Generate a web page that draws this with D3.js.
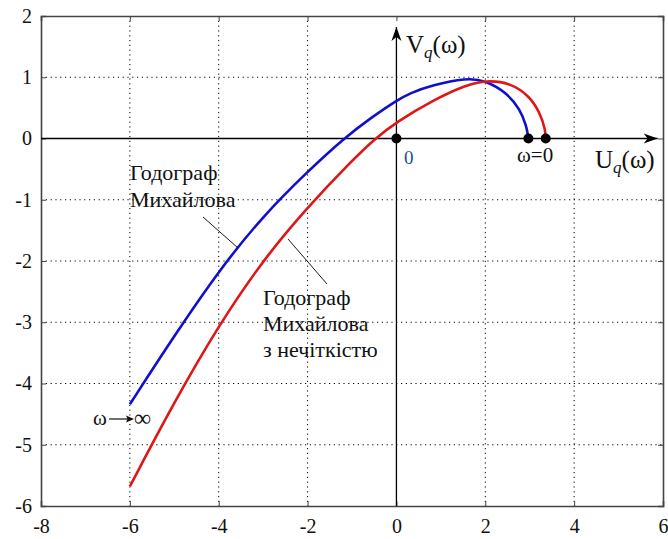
<!DOCTYPE html>
<html><head><meta charset="utf-8">
<script src="https://cdn.jsdelivr.net/npm/d3@7"></script>
<style>
html,body{margin:0;padding:0;background:#fff;}
svg text{font-family:"Liberation Serif","Times New Roman",serif;}
</style>
</head><body>
<svg id="c" width="668" height="539"></svg>
<script>
// ---- data ----
const xTicks = [-8, -6, -4, -2, 0, 2, 4, 6];
const yTicks = [2, 1, 0, -1, -2, -3, -4, -5, -6];
// Mikhailov hodograph (blue)
const blueU = [-6.0, -5.0, -4.0, -3.0, -2.0, -1.19, -0.55, 0.0, 0.3, 0.8, 1.58, 2.0, 2.48, 2.78, 2.93, 2.97];
const blueV = [-4.34, -3.22, -2.16, -1.26, -0.54, 0.0, 0.35, 0.62, 0.74, 0.87, 0.99, 0.95, 0.75, 0.48, 0.2, 0.0];
// Mikhailov hodograph with fuzziness (red)
const redU = [-6.0, -5.0, -4.0, -3.0, -2.0, -1.0, -0.48, 0.0, 0.83, 1.58, 2.03, 2.56, 3.0, 3.23, 3.35, 3.36];
const redV = [-5.68, -4.30, -3.05, -1.98, -1.12, -0.36, 0.0, 0.27, 0.63, 0.88, 0.95, 0.91, 0.69, 0.42, 0.15, 0.0];
// marked points (ω = 0 ends and origin)
const dotsU = [0, 2.97, 3.36];
const dotsV = [0, 0, 0];

(function () {
// ---- layout ----
const svg = d3.select("#c");
const L = 41, R = 663, T = 16, B = 506;
const x = d3.scaleLinear().domain([-8, 6]).range([L, R]);
const y = d3.scaleLinear().domain([-6, 2]).range([B, T]);
const fmt = d => String(d);

// grid (dotted)
const grid = svg.append("g");
xTicks.filter(d => d > -8 && d < 6 && d !== 0).forEach(d => {
  grid.append("line").attr("x1", x(d)).attr("x2", x(d)).attr("y1", T).attr("y2", B)
    .attr("stroke", "#000").attr("stroke-width", 1).attr("stroke-dasharray", "1.2,3.6");
});
yTicks.filter(d => d > -6 && d < 2 && d !== 0).forEach(d => {
  grid.append("line").attr("y1", y(d)).attr("y2", y(d)).attr("x1", L).attr("x2", R)
    .attr("stroke", "#000").attr("stroke-width", 1).attr("stroke-dasharray", "1.2,3.6");
});

// axes with ticks
const ax = svg.append("g");
const axBottom = d3.axisBottom(x).tickValues(xTicks).tickSize(-5).tickPadding(13).tickFormat(fmt);
const axLeft = d3.axisLeft(y).tickValues(yTicks).tickSize(-5).tickPadding(9).tickFormat(fmt);
const axTop = d3.axisTop(x).tickValues(xTicks).tickSize(-5).tickFormat("");
const axRight = d3.axisRight(y).tickValues(yTicks).tickSize(-5).tickFormat("");
const gB = ax.append("g").attr("transform", `translate(0,${B})`).call(axBottom);
const gL = ax.append("g").attr("transform", `translate(${L},0)`).call(axLeft);
const gT = ax.append("g").attr("transform", `translate(0,${T})`).call(axTop);
const gR = ax.append("g").attr("transform", `translate(${R},0)`).call(axRight);
[gB, gL, gT, gR].forEach(g => {
  g.attr("font-family", null);
  g.selectAll(".domain").attr("stroke", "#444").attr("stroke-width", 1.6);
  g.selectAll(".tick line").attr("stroke", "#444").attr("stroke-width", 1);
  g.selectAll("text").attr("font-size", 20).attr("fill", "#111")
    .style("font-family", "'Liberation Serif', serif");
});

// coordinate axes (solid, with arrows)
const tipX = x(5.88), tipY = y(1.82);
svg.append("line").attr("x1", L).attr("x2", tipX).attr("y1", y(0)).attr("y2", y(0))
  .attr("stroke", "#000").attr("stroke-width", 1.3);
svg.append("line").attr("x1", x(0)).attr("x2", x(0)).attr("y1", B).attr("y2", tipY)
  .attr("stroke", "#000").attr("stroke-width", 1.3);
svg.append("path")
  .attr("d", `M${tipX},${y(0)} L${tipX - 14},${y(0) - 5} L${tipX - 10},${y(0)} L${tipX - 14},${y(0) + 5} Z`)
  .attr("fill", "#000");
svg.append("path")
  .attr("d", `M${x(0)},${tipY} L${x(0) - 5},${tipY + 14} L${x(0)},${tipY + 10} L${x(0) + 5},${tipY + 14} Z`)
  .attr("fill", "#000");

// curves
const line = d3.line().x(d => x(d[0])).y(d => y(d[1])).curve(d3.curveBasis);
svg.append("path").datum(blueU.map((u, i) => [u, blueV[i]])).attr("d", line)
  .attr("fill", "none").attr("stroke", "#1010cc").attr("stroke-width", 2.6);
svg.append("path").datum(redU.map((u, i) => [u, redV[i]])).attr("d", line)
  .attr("fill", "none").attr("stroke", "#e01515").attr("stroke-width", 2.6);

// dots
svg.selectAll("circle.pt").data(dotsU.map((u, i) => [u, dotsV[i]])).enter().append("circle")
  .attr("cx", d => x(d[0])).attr("cy", d => y(d[1])).attr("r", 5).attr("fill", "#000");

// leader lines
svg.append("line").attr("x1", 203).attr("y1", 217).attr("x2", 238).attr("y2", 248)
  .attr("stroke", "#000").attr("stroke-width", 0.9);
svg.append("line").attr("x1", 288).attr("y1", 239).attr("x2", 327).attr("y2", 284)
  .attr("stroke", "#000").attr("stroke-width", 0.9);

// text annotations
const txt = (s, tx, ty, size, anchor) => svg.append("text").attr("x", tx).attr("y", ty)
  .attr("font-size", size).attr("fill", "#111").attr("text-anchor", anchor || "start").text(s);
txt("Годограф", 130, 180, 22);
txt("Михайлова", 130, 207, 22);
txt("Годограф", 263, 305, 22);
txt("Михайлова", 263, 331, 22);
txt("з нечіткістю", 263, 357, 22);
// ω → ∞ with a long arrow
txt("ω", 93, 425, 21);
svg.append("line").attr("x1", 109).attr("x2", 131).attr("y1", 419).attr("y2", 419)
  .attr("stroke", "#111").attr("stroke-width", 1.2);
svg.append("path").attr("d", "M134,419 L126,415.5 L127.5,419 L126,422.5 Z").attr("fill", "#111");
txt("∞", 134, 426, 24);
txt("ω=0", 517, 162, 21);
svg.append("text").attr("x", 404).attr("y", 164).attr("font-size", 19).attr("fill", "#23508f").text("0");

const vq = svg.append("text").attr("x", 406).attr("y", 53).attr("font-size", 25).attr("fill", "#111");
vq.append("tspan").text("V");
vq.append("tspan").attr("font-size", 17).attr("font-style", "italic").attr("dy", 5).text("q");
vq.append("tspan").attr("dy", -5).text("(ω)");
const uq = svg.append("text").attr("x", 595).attr("y", 168).attr("font-size", 25).attr("fill", "#111");
uq.append("tspan").text("U");
uq.append("tspan").attr("font-size", 17).attr("font-style", "italic").attr("dy", 5).text("q");
uq.append("tspan").attr("dy", -5).text("(ω)");
})();
</script>
</body></html>
